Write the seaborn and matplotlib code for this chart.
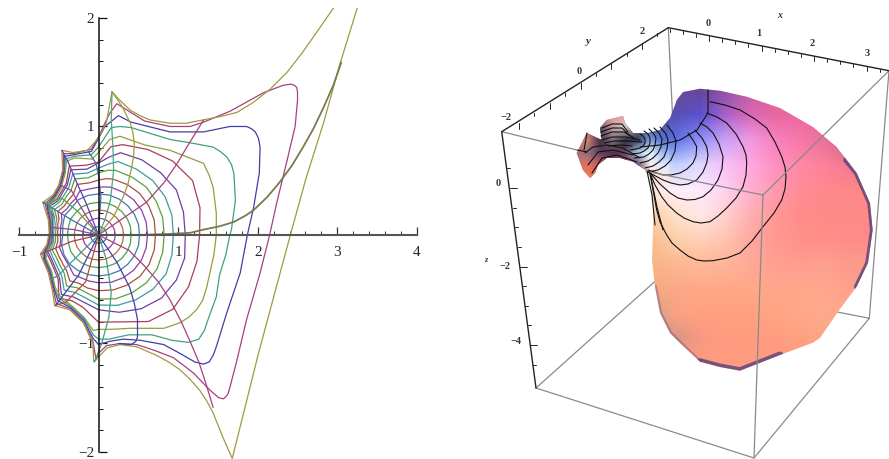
import numpy as np
import matplotlib
matplotlib.use("Agg")
import matplotlib.pyplot as plt
from matplotlib.colors import to_rgb
from matplotlib.patches import Polygon
from matplotlib.ticker import FixedLocator
import seaborn as sns

sns.set_theme(style="white")
plt.rcParams['font.family'] = ['Liberation Serif', 'DejaVu Serif']

# ---- left panel values ----
ANGLES = [0, 15, 30, 45, 60, 75, 90, 105, 120, 135, 150, 165, 180, 195, 210, 225, 240, 255, 270, 285, 300, 315, 330, 345]
# radius of the small level curves at each angle, in x axis units
level_1 = [.104, .104, .105, .105, .104, .104, .103, .104, .104, .103, .102, .101, .100, .101, .102, .103, .104, .104, .103, .104, .104, .105, .105, .104]
level_2 = [.21, .21, .21, .21, .21, .21, .21, .21, .21, .205, .205, .20, .20, .20, .205, .205, .21, .21, .21, .21, .21, .21, .21, .21]
level_3 = [.314, .315, .315, .315, .315, .315, .314, .314, .31, .31, .31, .305, .305, .305, .31, .31, .314, .314, .314, .315, .315, .315, .315, .315]
level_4 = [.41, .415, .415, .415, .415, .415, .41, .41, .41, .40, .405, .39, .39, .39, .405, .41, .41, .41, .41, .41, .415, .415, .415, .415]
level_5 = [.515, .52, .52, .52, .52, .52, .515, .515, .51, .48, .49, .465, .45, .48, .50, .515, .515, .515, .515, .515, .52, .52, .52, .52]
small_levels = [level_1, level_2, level_3, level_4, level_5]
small_colors = ['#3f6fa8', '#a03ca0', '#a87040', '#4ca050', '#3f7aa8']

ANGLES_FINE = [0, 15, 30, 45, 60, 75, 82, 90, 100, 113, 122, 130, 140, 150, 158, 165, 172, 180, 188, 198, 208, 218, 228, 238, 248, 258, 270, 285, 300, 315, 330, 345]
level_6 = [.615, .62, .625, .625, .62, .62, .61, .60, .59, .60, .54, .53, .515, .54, .495, .49, .48, .48, .48, .515, .515, .52, .54, .59, .58, .59, .60, .615, .62, .625, .625, .62]
level_7 = [.715, .725, .73, .735, .73, .725, .715, .69, .665, .69, .60, .58, .565, .59, .535, .53, .515, .515, .515, .565, .565, .575, .60, .68, .655, .68, .70, .715, .725, .735, .735, .725]
level_8 = [.825, .835, .84, .85, .84, .84, .82, .78, .73, .765, .655, .63, .60, .64, .565, .555, .54, .54, .545, .61, .60, .615, .645, .755, .715, .74, .805, .83, .84, .85, .85, .835]
level_9 = [.94, .955, .965, .965, .955, .955, .90, .84, .79, .83, .705, .665, .64, .68, .595, .58, .565, .565, .57, .64, .64, .655, .69, .815, .78, .805, .88, .915, .94, .965, .98, .955]
level_10 = [1.09, 1.105, 1.13, 1.105, 1.09, 1.07, .99, .905, .84, .89, .74, .70, .665, .715, .615, .60, .585, .58, .59, .67, .665, .685, .73, .88, .84, .865, .94, 1.005, 1.07, 1.12, 1.13, 1.12]
level_11 = [1.27, 1.32, 1.365, 1.315, 1.24, 1.175, 1.12, .915, .89, .94, .765, .72, .69, .74, .635, .615, .595, .59, .60, .69, .685, .705, .755, .94, .89, .93, 1.095, 1.13, 1.255, 1.32, 1.305, 1.28]
mid_levels = [level_6, level_7, level_8, level_9, level_10, level_11]
mid_colors = ['#8a3fa8', '#a8503f', '#5aa03f', '#3f9aa0', '#6a3fa8', '#a83f55']

level_12 = [(1.48, 0), (1.48, .20), (1.44, .44), (1.39, .55), (1.32, .66), (1.11, .72), (.90, .78), (.58, .83), (.27, .91), (.14, .88), (.06, .81),
            (0, .76), (-.08, .70), (-.30, .71), (-.40, .68), (-.42, .565), (-.47, .43), (-.535, .35), (-.61, .26), (-.59, .13), (-.595, .02),
            (-.61, -.085), (-.635, -.15), (-.66, -.215), (-.59, -.33), (-.545, -.48), (-.48, -.565), (-.34, -.65), (-.18, -.76), (-.065, -.88),
            (0, -.87), (.14, -.87), (.40, -.86), (.82, -.86), (1.02, -.81), (1.13, -.76), (1.23, -.69), (1.31, -.60), (1.36, -.48), (1.45, -.18), (1.48, 0)]
level_13 = [(1.65, 0), (1.67, .05), (1.72, .32), (1.70, .57), (1.67, .65), (1.61, .72), (1.53, .77), (1.44, .81), (1.15, .85), (.90, .88), (.41, .99), (.27, 1.00),
            (.16, .99), (.08, .90), (0, .81), (-.09, .74), (-.305, .725), (-.415, .70), (-.43, .57), (-.48, .44), (-.545, .355), (-.63, .27), (-.60, .135),
            (-.60, .02), (-.62, -.085), (-.66, -.16), (-.67, -.22), (-.60, -.335), (-.555, -.49), (-.495, -.585), (-.345, -.66), (-.18, -.77), (-.065, -.92),
            (0, -.96), (.13, -.96), (.38, -.92), (.67, -.92), (.92, -.97), (1.13, -.99), (1.26, -.96), (1.33, -.88), (1.38, -.77), (1.48, -.57), (1.52, -.37), (1.60, -.18), (1.65, 0)]
level_14 = [(1.87, 0), (1.95, .26), (2.02, .57), (2.03, .81), (2.01, .89), (1.97, .95), (1.92, .98), (1.86, 1.00), (1.65, 1.00), (1.32, .95), (1.21, .95), (.90, .95),
            (.79, .97), (.41, 1.04), (.25, 1.10), (.08, 1.00), (0, .89), (-.09, .77), (-.31, .74), (-.43, .725), (-.435, .58), (-.485, .445), (-.55, .36), (-.65, .28),
            (-.61, .135), (-.605, .02), (-.63, -.085), (-.68, -.165), (-.68, -.22), (-.61, -.34), (-.56, -.495), (-.51, -.605), (-.35, -.67), (-.185, -.785), (-.07, -.95), (0, -1.01),
            (.14, -.98), (.31, -.96), (.52, -.97), (.82, -1.01), (1.02, -1.09), (1.21, -1.17), (1.32, -1.19), (1.39, -1.17), (1.44, -1.11), (1.48, -1.03),
            (1.61, -.72), (1.78, -.35), (1.87, 0)]
level_15 = [(2.15, 0), (2.24, .30), (2.36, .66), (2.47, 1.00), (2.50, 1.24), (2.50, 1.32), (2.49, 1.36), (2.46, 1.38), (2.42, 1.39), (2.32, 1.38), (2.07, 1.31), (1.65, 1.14),
            (1.32, 1.04), (1.15, 1.00), (.90, 1.00), (.58, 1.05), (.23, 1.21), (.14, 1.12), (.06, 1.00), (0, .90), (-.09, .79), (-.315, .75), (-.44, .75),
            (-.445, .59), (-.49, .455), (-.56, .365), (-.67, .29), (-.62, .14), (-.61, .02), (-.64, -.09), (-.70, -.17), (-.69, -.225), (-.62, -.345), (-.57, -.50), (-.53, -.63),
            (-.355, -.68), (-.19, -.80), (-.07, -.98), (-.03, -1.15), (0, -1.09), (.10, -1.02), (.27, -1.00), (.48, -1.01), (.69, -1.06), (.94, -1.13),
            (1.19, -1.27), (1.40, -1.43), (1.51, -1.50), (1.57, -1.51), (1.60, -1.49), (1.63, -1.46), (1.67, -1.35), (1.73, -1.18), (1.86, -.78), (2.03, -.35), (2.15, 0)]
level_16 = [(3.29, 2.21), (3.25, 2.09), (3.03, 1.57), (2.83, 1.04), (2.61, .53), (2.41, 0), (2.01, -1.09), (1.68, -2.06), (1.56, -1.86),
            (1.44, -1.64), (1.36, -1.53), (1.27, -1.43), (1.15, -1.33), (1.02, -1.24), (.88, -1.17), (.73, -1.11), (.48, -1.03), (.27, -1.01), (.11, -1.04), (-.06, -1.17), (-.07, -1.00),
            (-.19, -.81), (-.36, -.69), (-.55, -.65), (-.58, -.51), (-.63, -.35), (-.70, -.23), (-.73, -.175), (-.65, -.09), (-.62, .02),
            (-.63, .14), (-.70, .30), (-.57, .37), (-.50, .46), (-.45, .60), (-.46, .78), (-.32, .76), (-.14, .78), (-.04, .86), (.04, .95),
            (.10, 1.04), (.14, 1.20), (.17, 1.32), (.27, 1.24), (.40, 1.15), (.52, 1.10), (.65, 1.06), (.90, 1.03), (1.10, 1.03), (1.31, 1.06), (1.52, 1.09), (1.74, 1.13), (1.94, 1.22),
            (2.15, 1.34), (2.37, 1.50), (2.57, 1.69), (2.78, 1.91), (2.95, 2.09), (3.14, 2.30)]
outer_levels = [level_12, level_13, level_14, level_15, level_16]
outer_colors = ['#8fa03f', '#3fa080', '#3f3fa8', '#a83f80', '#a09a3f']

spokes = [
    ([(0, 0), (.50, 0), (.90, .01), (1.15, .02), (1.32, .05), (1.52, .08), (1.70, .12), (1.85, .18), (1.95, .23), (2.12, .35), (2.28, .49), (2.43, .64), (2.57, .81), (2.70, .98), (2.83, 1.18), (2.95, 1.38), (3.05, 1.59)], '#7a7a50', 1.3),
    ([(0, 0), (.30, .15), (.60, .30), (.82, .48), (.98, .65), (1.11, .81), (1.32, 1.06)], '#a83f80', .9),
    ([(0, 0), (.19, .17), (.31, .35), (.37, .47), (.41, .60), (.44, .72), (.45, .85), (.43, .95), (.40, 1.03), (.30, 1.18), (.17, 1.32)], '#a09a3f', .9),
    ([(0, 0), (.08, .14), (.15, .32), (.19, .60), (.18, .83), (.16, 1.06), (.17, 1.32)], '#4ca880', .9),
    ([(0, 0), (.01, .14), (.03, .35), (0, .55), (-.03, .66), (-.13, .77)], '#4a5fb0', .9),
    ([(0, 0), (-.16, .30), (-.29, .51), (-.38, .67), (-.46, .78)], '#5a3fb0', .9),
    ([(0, 0), (-.16, .18), (-.34, .41), (-.48, .46)], '#a03ca0', .9),
    ([(0, 0), (-.25, .21), (-.46, .34), (-.63, .30), (-.70, .30)], '#5aa03f', .9),
    ([(0, 0), (-.34, .14), (-.65, .28), (-.70, .30)], '#3f6fa8', .9),
    ([(0, 0), (-.31, .05), (-.59, .07)], '#8a3fa8', .9),
    ([(0, 0), (-.34, -.06), (-.72, -.175)], '#a83f55', .9),
    ([(0, 0), (-.38, -.28), (-.50, -.37), (-.60, -.41)], '#3f9aa0', .9),
    ([(0, 0), (-.25, -.37), (-.54, -.65)], '#3f3fa8', .9),
    ([(0, 0), (-.16, -.43), (-.41, -.62), (-.55, -.65)], '#a8503f', .9),
    ([(0, 0), (.10, -.23), (.16, -.53), (.13, -.76), (.04, -1.00), (-.05, -1.17)], '#3fa080', .9),
    ([(0, 0), (.23, -.25), (.39, -.48), (.45, -.63), (.49, -.78), (.49, -.94), (.47, -.98), (.41, -1.01), (.25, -1.00)], '#3f3fa8', .9),
    ([(0, 0), (.38, -.14), (.57, -.28), (.75, -.43), (.90, -.60), (1.04, -.80), (1.15, -.98), (1.26, -1.17), (1.35, -1.37), (1.44, -1.59)], '#a83f80', .9),
]
x_major = [-1, 1, 2, 3, 4]
y_major = [-2, -1, 1, 2]
x_minor = [-.8, -.6, -.4, -.2, 0, .2, .4, .6, .8, 1.2, 1.4, 1.6, 1.8, 2.2, 2.4, 2.6, 2.8, 3.2, 3.4, 3.6, 3.8]
y_minor = [-1.8, -1.6, -1.4, -1.2, -.8, -.6, -.4, -.2, .2, .4, .6, .8, 1.2, 1.4, 1.6, 1.8]

# ---- right panel values, read in the projected plane of the 3D box ----
surface_outline = [(676.7, 100), (683, 92), (700, 88.7), (720, 90.7), (746.7, 96.7), (780, 108), (813, 127), (836.7, 147), (856.7, 173), (870, 203),
                   (872.7, 230), (868, 263), (856.7, 286.7), (838, 311.7), (820, 338), (813, 342.7), (780, 355), (740, 370.7), (720, 367), (700, 361.7),
                   (680, 343), (670, 333), (660, 313), (655, 286.7), (652, 260), (653, 230), (653, 200), (650, 178), (645, 170), (633, 161.7),
                   (620, 158), (606.7, 158), (598, 165), (595, 173), (590, 178), (583, 170), (576.7, 153), (586.7, 133), (601.7, 140), (600, 128),
                   (606.7, 120), (623, 116), (625, 123), (633, 133), (648, 133), (660, 130), (670, 118), (675, 105)]
shade_rows = [
    ['#6a4a9a', '#6a4a9a', '#6a4a9a', '#6a4a9a', '#6a4a9a', '#6a459a', '#9050a0', '#c060a0', '#e0609a', '#e8608f', '#e8608f', '#e8608f', '#e8608f'],
    ['#b07090', '#c08090', '#806080', '#5050a0', '#5a50b0', '#5a50d0', '#a860c8', '#d868b8', '#e8689f', '#e8689f', '#e8689f', '#e8689f', '#e8689f'],
    ['#b06070', '#503040', '#303040', '#5070c0', '#5a70e8', '#9090f8', '#c8a0f8', '#f098e0', '#f880c0', '#f878a8', '#e87098', '#c06088', '#c06088'],
    ['#e08060', '#402830', '#503050', '#e0f0ff', '#c0d0ff', '#e0d8ff', '#f8c0f8', '#ffa8e0', '#ff90c0', '#ff88a8', '#ff8098', '#f07890', '#d06c88'],
    ['#f08060', '#f08060', '#f08060', '#ffe8e0', '#fff0f8', '#ffe8ff', '#ffd0f0', '#ffb0d0', '#ff98b0', '#ff8c98', '#ff8890', '#ff8888', '#ff8888'],
    ['#ffd0a8', '#ffd0a8', '#ffd0a8', '#ffd0a8', '#ffe0c8', '#ffe8e8', '#ffd0d0', '#ffb0b0', '#ff9898', '#ff8c8c', '#ff8888', '#ff8888', '#ff8888'],
    ['#f8bc90', '#f8bc90', '#f8bc90', '#f8bc90', '#fcd0a8', '#ffd0b8', '#ffc4b0', '#ffa8a0', '#ff9890', '#ff9088', '#ff9088', '#ff8c88', '#ff8c88'],
    ['#f8b488', '#f8b488', '#f8b488', '#f8b488', '#fcb890', '#ffb898', '#ffb498', '#ffa898', '#ffa090', '#ff9c90', '#ffa090', '#fc9a8c', '#fc9a8c'],
    ['#f8a880', '#f8a880', '#f8a880', '#f8a880', '#fba888', '#ffa888', '#ffa888', '#ffa888', '#ffa88c', '#ffa88c', '#ffa88c', '#ffa08c', '#ffa08c'],
    ['#c0a888', '#c0a888', '#c0a888', '#c0a888', '#fba080', '#ffa080', '#ffa080', '#ffa080', '#ffa484', '#ffa888', '#ffa88c', '#ffa88c', '#ffa88c'],
    ['#c09088', '#c09088', '#c09088', '#c09088', '#d89488', '#f89880', '#ff9c80', '#ff9c80', '#ff9c80', '#ffa080', '#f8a888', '#f8a888', '#f8a888'],
    ['#ff9c80', '#ff9c80', '#ff9c80', '#ff9c80', '#ff9c80', '#ff9c80', '#ff9c80', '#ff9c80', '#ff9c80', '#ff9c80', '#ff9c80', '#ff9c80', '#ff9c80'],
]
# finer colour reads around the two small lobes
lobe_rows = [
    ['#c08090', '#c08090', '#e09090', '#e8a0a0', '#e8a0a0', '#5050a0', '#5050a0', '#5050a0'],
    ['#b07080', '#b07080', '#604060', '#c0a0a0', '#e0d0d0', '#806070', '#4050a0', '#5060b0'],
    ['#d08070', '#d08070', '#403040', '#807080', '#303038', '#304060', '#80a0e0', '#5a70d8'],
    ['#b07080', '#907080', '#604060', '#503048', '#604868', '#b0d0f0', '#e8f4ff', '#a0b8f0'],
    ['#e07060', '#e07060', '#d06060', '#a04858', '#a04858', '#704868', '#f8f0f0', '#e0e8ff'],
    ['#f08050', '#f08050', '#e07050', '#e07050', '#e07050', '#704868', '#ffd8c8', '#ffe8e0'],
]
edge_dark = [
    ([(700, 361.7), (720, 367), (740, 370.7), (780, 355)], 5, .8),
    ([(846, 160), (856.7, 173), (870, 203), (872.7, 230), (868, 263), (856.7, 286.7)], 4, .8),
    ([(655, 286.7), (660, 313), (670, 333), (680, 343), (700, 361.7)], 3, .35),
]
contours = [
    [(710, 101.7), (725, 105), (740, 110), (755, 119), (766.7, 128), (775, 142), (781.7, 156.7), (785, 167), (786, 176.7), (785, 189), (781.7, 200), (774, 213), (763, 226.7), (752, 241), (740, 253), (727, 258), (713, 260.7), (704, 261), (696.7, 260), (688, 256), (680, 250), (672, 243), (666.7, 235), (660, 222), (656.7, 210), (653, 190), (650, 173)],
    [(706.7, 113), (717, 117), (726.7, 123), (736, 134), (743, 146.7), (746, 155), (746.7, 163), (746, 175), (743, 186.7), (736, 198), (726.7, 208), (718, 216), (710, 221.7), (701, 223), (693, 221.7), (684, 218), (676.7, 213), (668, 205), (661.7, 196.7), (655, 185), (650, 173)],
    [(700, 123), (707, 127), (713, 133), (719, 144), (723, 156.7), (722, 169), (718, 180), (711, 190), (703, 196.7), (695, 199.5), (686.7, 200), (678, 198), (670, 193), (660, 184), (650, 173)],
    [(695, 130), (702, 138), (706.7, 146.7), (708, 155), (706.7, 163), (703, 172), (696.7, 180), (688, 184), (680, 185), (671, 183), (663, 180), (648, 172)],
    [(688, 133), (693, 140), (696.7, 146.7), (696, 156), (693, 163), (687, 169), (680, 173), (671, 175), (663, 175), (648, 170)],
    [(667, 125), (673, 133), (676, 141), (675, 151), (671, 160), (665, 166), (658, 170), (648, 172)],
    [(660, 127), (666, 134), (668, 140), (667, 149), (664, 157), (659, 162), (653, 166), (645, 168)],
    [(654, 128), (659, 133), (662, 139), (661, 147), (658, 153), (653, 158), (648, 161), (640, 163)],
    [(649, 129), (654, 134), (656, 138), (655, 145), (653, 150), (649, 154), (644, 157), (634, 158)],
    [(644, 131), (648, 134), (650, 138), (650, 143), (648, 148), (644, 151), (640, 153), (632, 154)],
    [(640, 134), (643, 136), (645, 139), (645, 143), (643, 146), (640, 148), (636, 149), (630, 150)],
    [(708, 90), (708, 113), (697, 130), (680, 140), (660, 145), (640, 147)],
    [(650, 173), (657, 207), (663, 230)],
    [(647, 171), (652, 195), (655, 225)],
    [(585, 153), (593, 147), (607, 145), (623, 148), (640, 158)],
    [(588, 165), (598, 152), (613, 150), (633, 155)],
    [(592, 173), (602, 158), (617, 155), (637, 162)],
    [(577, 150), (587, 152)],
    [(587, 133), (584, 150)],
    [(602, 128), (612, 124), (622, 124), (628, 132)],
    [(601, 132), (612, 128), (622, 128), (630, 136)],
    [(601, 136), (612, 132), (624, 132), (634, 138)],
    [(602, 140), (612, 137), (626, 137), (640, 140)],
    [(604, 143), (614, 141), (628, 141), (642, 142)],
    [(608, 146), (620, 145), (632, 146)],
]
box_back = [[(668.3, 27.7), (680, 270)], [(536, 388), (690, 250)], [(869.3, 318.3), (700, 285)]]
box_front = [[(501.7, 131.7), (577, 150)], [(650, 172), (763, 195)], [(763, 195), (889, 70.7)], [(763, 195), (754, 458)],
             [(889, 70.7), (869.3, 318.3)], [(536, 388), (754, 458)], [(754, 458), (869.3, 318.3)]]
box_axes = [[(668.3, 27.7), (501.7, 131.7)], [(668.3, 27.7), (889, 70.7)], [(501.7, 131.7), (536, 388)]]
x3_ticks = [-.75, -.5, -.25, 0, .25, .5, .75, 1, 1.25, 1.5, 1.75, 2, 2.25, 2.5, 2.75, 3, 3.25]
y3_ticks = [-2, -1.5, -1, -.5, 0, .5, 1, 1.5, 2, 2.5]
z3_ticks = [.5, 0, -.5, -1, -1.5, -2, -2.5, -3, -3.5, -4, -4.5]
box_texts = [('0', 707.7, 24), ('1', 759, 34), ('2', 812, 44), ('3', 867, 54),
             ('2', 642, 32), ('0', 578.7, 72), ('\u22122', 506, 117),
             ('0', 498, 184), ('\u22122', 505, 266.7), ('\u22124', 515.7, 341)]


def draw(ax, pts, color, lw=.9, alpha=1.0):
    pts = np.asarray(pts, dtype=float)
    sns.lineplot(x=pts[:, 0], y=pts[:, 1], sort=False, estimator=None, errorbar=None,
                 color=color, lw=lw, alpha=alpha, legend=False, ax=ax)
    return ax.lines[-1]


def draw_round(ax, angles, radii, color):
    theta = np.deg2rad(angles + [360])
    r = np.array(radii + radii[:1])
    # the radii are round on the page, the two axes have different units
    draw(ax, np.c_[r * np.cos(theta), r * np.sin(theta) * 79.6 / 108.5], color)


fig = plt.figure(figsize=(8.89, 4.59), dpi=100)

# left panel
ax = fig.add_axes([0, 0, 440 / 889, 451 / 459])
for radii, col in zip(small_levels, small_colors):
    draw_round(ax, ANGLES, radii, col)
for radii, col in zip(mid_levels, mid_colors):
    draw_round(ax, ANGLES_FINE, radii, col)
for pts, col in zip(outer_levels, outer_colors):
    draw(ax, pts, col)
for pts, col, width in spokes:
    draw(ax, pts, col, lw=width)

ax.set_xlim(-1.2374, 4.29)
ax.set_ylim(-2.0645, 2.092)
ax.spines['top'].set_visible(False)
ax.spines['right'].set_visible(False)
ax.spines['bottom'].set_position(('data', 0))
ax.spines['left'].set_position(('data', 0))
ax.spines['bottom'].set_bounds(-1, 4)
ax.spines['left'].set_bounds(-2, 2)
ax.spines['bottom'].set_color('#555555')
ax.spines['bottom'].set_linewidth(1.5)
ax.spines['left'].set_color('#111111')
ax.spines['left'].set_linewidth(1.1)
ax.set_xticks(x_major)
ax.set_yticks(y_major)
ax.set_xticklabels(['\u22121', '1', '2', '3', '4'])
ax.set_yticklabels(['\u22122', '\u22121', '1', '2'])
ax.xaxis.set_minor_locator(FixedLocator(x_minor))
ax.yaxis.set_minor_locator(FixedLocator(y_minor))
ax.tick_params(axis='x', which='major', direction='in', length=5.5, width=.9, color='#333333', labelsize=11, pad=8, bottom=True)
ax.tick_params(axis='x', which='minor', direction='in', length=3, width=.7, color='#333333', bottom=True)
ax.tick_params(axis='y', which='major', direction='in', length=5.5, width=.9, color='#111111', labelsize=11, pad=3, left=True)
ax.tick_params(axis='y', which='minor', direction='in', length=3, width=.7, color='#111111', left=True)
ax.patch.set_alpha(0)

# right panel
ax2 = fig.add_axes([480 / 889, 0, 409 / 889, 1])
for seg in box_back:
    draw(ax2, seg, '#8a8a8a', lw=.9)

outline = Polygon(surface_outline, closed=True, transform=ax2.transData, fc='none', ec='none')
ax2.add_patch(outline)
rgb = np.array([[to_rgb(c) for c in row] for row in shade_rows])
img = ax2.imshow(rgb, extent=(562.5, 887.5, 377.5, 77.5), origin='upper', aspect='auto', interpolation='bilinear', zorder=3)
img.set_clip_path(outline)
rgb_lobes = np.array([[to_rgb(c) for c in row] for row in lobe_rows])
img2 = ax2.imshow(rgb_lobes, extent=(568.75, 668.75, 183.75, 108.75), origin='upper', aspect='auto', interpolation='bilinear', zorder=3.1)
img2.set_clip_path(outline)
for pts, width, alp in edge_dark:
    line = draw(ax2, pts, '#54407c', lw=width, alpha=alp)
    line.set_zorder(3.2)
    line.set_clip_path(outline)
for pts in contours:
    draw(ax2, pts, '#111111', lw=.8).set_zorder(3.5)
for seg in box_front:
    draw(ax2, seg, '#8a8a8a', lw=.9).set_zorder(4)
for seg in box_axes:
    draw(ax2, seg, '#222222', lw=1).set_zorder(4)

# box axes are straight, ticks go along them with the spacing read at the labels
for v in x3_ticks:
    px, py = 709 + 52.5 * v, 36 + 10 * v
    draw(ax2, [(px, py), (px, py + (5 if v == int(v) else 3))], '#222222', lw=.7).set_zorder(4)
for v in y3_ticks:
    px, py = 580.5 + 30.75 * v, 83 - 20 * v
    draw(ax2, [(px, py), (px, py + (6 if v == int(v) else 3))], '#222222', lw=.7).set_zorder(4)
for v in z3_ticks:
    px, py = 510 - 5 * v, 188 - 39.25 * v
    draw(ax2, [(px, py), (px + (7 if v == int(v) and v % 2 == 0 else 3), py)], '#222222', lw=.7).set_zorder(4)

for label, px, py in box_texts:
    ax2.text(px, py, label, fontsize=7.5, color='#333333', ha='center', va='center', weight='bold')
ax2.text(780, 16, 'x', fontsize=7, style='italic', color='#333333', ha='center', va='center', weight='bold')
ax2.text(588, 42, 'y', fontsize=8, style='italic', color='#333333', ha='center', va='center', weight='bold')
ax2.text(486, 260, 'z', fontsize=6, style='italic', color='#333333', ha='center', va='center', weight='bold')

ax2.set_xlim(480, 889)
ax2.set_ylim(459, 0)
ax2.axis('off')

fig.savefig('out.png', dpi=100)
